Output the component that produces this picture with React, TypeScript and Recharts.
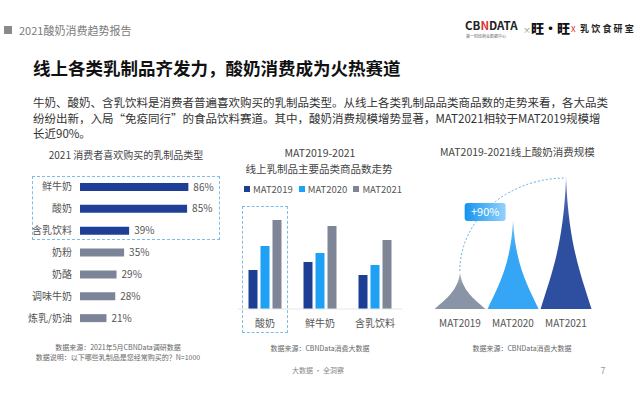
import React from "react";
import { BarChart, Bar, XAxis, YAxis, Cell, LabelList } from "recharts";

const FONT = "'Noto Sans CJK SC', 'Noto Sans', sans-serif";

// left: 2021 消费者喜欢购买的乳制品类型 (%)
const preferCategories = ["鲜牛奶", "酸奶", "含乳饮料", "奶粉", "奶酪", "调味牛奶", "炼乳/奶油"];
const preferShares = [86, 85, 39, 35, 29, 28, 21];
const highlightCount = 3;

// middle: 线上乳制品主要品类商品数走势 (relative)
const skuCategories = ["酸奶", "鲜牛奶", "含乳饮料"];
const skuSeries = ["MAT2019", "MAT2020", "MAT2021"];
const sku2019 = [39, 47, 34];
const sku2020 = [63, 56, 44];
const sku2021 = [89, 83, 69];

// right: 线上酸奶消费规模 (relative, read from spike heights)
const yogurtPeriods = ["MAT2019", "MAT2020", "MAT2021"];
const yogurtScale = [36, 88, 131];
const growthLabel = "+90%";

const paragraph = [
  "牛奶、酸奶、含乳饮料是消费者普遍喜欢购买的乳制品类型。从线上各类乳制品品类商品数的走势来看，各大品类",
  "纷纷出新，入局“免疫同行”的食品饮料赛道。其中，酸奶消费规模增势显著，MAT2021相较于MAT2019规模增",
  "长近90%。",
];

const DARK = "#1f3f96";
const GREY = "#7c8598";
const SKU_COLORS = ["#1c3f95", "#1ea0f5", "#7d8597"];
const SPIKE_COLORS = ["#8994a6", "#35a5f5", "#2e4f9f"];

const preferData = preferCategories.map((name, i) => ({ name, value: preferShares[i] }));
const skuData = skuCategories.map((name, i) => ({
  name,
  MAT2019: sku2019[i],
  MAT2020: sku2020[i],
  MAT2021: sku2021[i],
}));
const yogurtData = yogurtPeriods.map((period, i) => ({ period, value: yogurtScale[i] }));

function T({ x, y, size = 10, color = "#444", weight = 400, align = "center", spacing = 0, children }: any) {
  const tx = align === "center" ? "-50%" : align === "right" ? "-100%" : "0";
  return (
    <div
      style={{
        position: "absolute",
        left: x,
        top: y,
        transform: `translate(${tx}, -50%)`,
        fontSize: size,
        color,
        fontWeight: weight,
        lineHeight: 1.1,
        letterSpacing: spacing,
        whiteSpace: "nowrap",
      }}
    >
      {children}
    </div>
  );
}

const BAND_GAP = 0.02;

function Spike(props: any) {
  const { x, y, width, height, index } = props;
  const cx = x + width / 2;
  const hw = width / 2;
  const yb = y + height;
  const P = (dx: number, dh: number) => `${cx + dx * hw} ${yb - dh * height}`;
  const d = `M${P(-1, 0)} C${P(-0.55, 0.28)} ${P(-0.1, 0.5)} ${P(0, 1)} C${P(0.1, 0.5)} ${P(0.55, 0.28)} ${P(1, 0)} Z`;
  const gid = `spike-${index}`;
  let extra = null;
  if (index === yogurtScale.length - 1) {
    // arc from first peak to last peak, through the scale of this bar
    const pxPerUnit = height / yogurtScale[index];
    const band = width / (1 - 2 * BAND_GAP);
    const x0 = cx - index * band;
    const y0 = yb - yogurtScale[0] * pxPerUnit;
    const rx = cx - x0;
    const ry = y0 - y;
    const a = (40 * Math.PI) / 180;
    const bx = cx - rx * Math.cos(a);
    const by = y0 - ry * Math.sin(a);
    extra = (
      <g>
        <path
          d={`M${x0} ${y0 - 2} A${rx} ${ry - 2} 0 0 1 ${cx} ${y}`}
          fill="none"
          stroke="#5aaee8"
          strokeWidth={1}
          strokeDasharray="2 2"
        />
        <defs>
          <linearGradient id="badge" x1="0" y1="0" x2="1" y2="0">
            <stop offset="0%" stopColor="#1593ee" />
            <stop offset="100%" stopColor="#93d2fb" />
          </linearGradient>
        </defs>
        <rect x={bx - 20} y={by - 9} width={41} height={18} rx={3} fill="url(#badge)" />
        <text x={bx + 0.5} y={by + 4} textAnchor="middle" fill="#fff" fontSize={11} fontFamily={FONT}>
          {growthLabel}
        </text>
      </g>
    );
  }
  return (
    <g>
      <defs>
        <linearGradient id={gid} x1="0" y1="0" x2="0" y2="1">
          <stop offset="0%" stopColor={SPIKE_COLORS[index]} stopOpacity={0.75} />
          <stop offset="35%" stopColor={SPIKE_COLORS[index]} />
          <stop offset="100%" stopColor={SPIKE_COLORS[index]} />
        </linearGradient>
      </defs>
      <path d={d} fill={`url(#${gid})`} />
      {extra}
    </g>
  );
}

export default function App() {
  return (
    <div
      style={{
        position: "absolute",
        left: 0,
        top: 0,
        width: 643,
        height: 394,
        overflow: "hidden",
        background: "#fff",
        fontFamily: FONT,
      }}
    >
      {/* header */}
      <div style={{ position: "absolute", left: 4, top: 26, width: 8, height: 8, background: "#8a8a8a" }} />
      <T x={19} y={30} size={11} color="#7a7a7a" align="left">2021酸奶消费趋势报告</T>
      <T x={465} y={25} size={11.5} color="#222" weight={700} align="left">CB<span style={{ color: "#d33" }}>N</span>DATA</T>
      <T x={466} y={36} size={4} color="#666" align="left">第一财经商业数据中心</T>
      <T x={523} y={30} size={8} color="#888" align="left">×</T>
      <T x={531} y={28} size={13} color="#111" weight={900} align="left">旺·旺</T>
      <T x={571} y={29} size={8} color="#d22" align="left">X</T>
      <T x={580} y={29} size={9} color="#222" weight={700} align="left" spacing={2.2}>乳饮食研室</T>

      {/* title + paragraph */}
      <T x={33} y={68} size={17.5} color="#111" weight={700} align="left">
        线上各类乳制品齐发力，酸奶消费成为火热赛道
      </T>
      {paragraph.map((line, i) => (
        <T key={i} x={33} y={102 + i * 15.5} size={11.5} color="#333" align="left">
          {line}
        </T>
      ))}

      {/* left chart */}
      <T x={126} y={154} size={10} color="#444">2021 消费者喜欢购买的乳制品类型</T>
      <div
        style={{
          position: "absolute",
          left: 32,
          top: 176,
          width: 188,
          height: 64,
          border: "1px dashed #7fbbe8",
          boxSizing: "border-box",
        }}
      />
      <div style={{ position: "absolute", left: 0, top: 176 }}>
        <BarChart
          width={246}
          height={153}
          layout="vertical"
          data={preferData}
          margin={{ top: 0, right: 40, bottom: 0, left: 0 }}
        >
          <XAxis type="number" domain={[0, 100]} hide />
          <YAxis
            type="category"
            dataKey="name"
            width={80}
            axisLine={false}
            tickLine={false}
            tick={{ fontSize: 10, fill: "#555", fontFamily: FONT }}
          />
          <Bar dataKey="value" barSize={8} isAnimationActive={false}>
            {preferData.map((_, i) => (
              <Cell key={i} fill={i < highlightCount ? DARK : GREY} />
            ))}
            <LabelList
              dataKey="value"
              position="right"
              offset={5}
              formatter={(v: any) => `${v}%`}
              style={{ fontSize: 10, fill: "#555", fontFamily: FONT }}
            />
          </Bar>
        </BarChart>
      </div>
      <T x={118} y={348} size={7} color="#666">数据来源：2021年5月CBNData调研数据</T>
      <T x={118} y={357.5} size={7} color="#666">数据说明：以下哪些乳制品是您经常购买的？N=1000</T>

      {/* middle chart */}
      <T x={320} y={153} size={10.5} color="#444">MAT2019-2021</T>
      <T x={319} y={169} size={10.5} color="#444">线上乳制品主要品类商品数走势</T>
      <div
        style={{
          position: "absolute",
          left: 244,
          top: 182,
          display: "flex",
          alignItems: "center",
          fontSize: 9.5,
          color: "#555",
        }}
      >
        {skuSeries.map((s, i) => (
          <div key={s} style={{ display: "flex", alignItems: "center", marginRight: 6 }}>
            <div style={{ width: 6, height: 6, background: SKU_COLORS[i], marginRight: 3 }} />
            {s}
          </div>
        ))}
      </div>
      <div
        style={{
          position: "absolute",
          left: 242,
          top: 206,
          width: 46,
          height: 127,
          border: "1px dashed #7fbbe8",
          boxSizing: "border-box",
        }}
      />
      <div style={{ position: "absolute", left: 230, top: 195 }}>
        <BarChart
          width={190}
          height={145}
          data={skuData}
          barSize={9}
          barGap={3}
          margin={{ top: 14, right: 17.5, bottom: 0, left: 7.5 }}
        >
          <XAxis
            dataKey="name"
            height={31}
            tickLine={false}
            axisLine={{ stroke: "#e6e6e6" }}
            tickMargin={5}
            tick={{ fontSize: 10, fill: "#555", fontFamily: FONT }}
          />
          <YAxis hide domain={[0, 100]} />
          {skuSeries.map((s, i) => (
            <Bar key={s} dataKey={s} fill={SKU_COLORS[i]} isAnimationActive={false} />
          ))}
        </BarChart>
      </div>
      <T x={320} y={349} size={7} color="#666">数据来源：CBNData消费大数据</T>

      {/* right chart */}
      <T x={440} y={152} size={10.5} color="#444" align="left">MAT2019-2021线上酸奶消费规模</T>
      <div style={{ position: "absolute", left: 420, top: 150 }}>
        <BarChart
          width={190}
          height={189}
          data={yogurtData}
          barCategoryGap={`${BAND_GAP * 100}%`}
          margin={{ top: 19, right: 17.5, bottom: 0, left: 13.5 }}
        >
          <XAxis
            dataKey="period"
            height={30}
            tickLine={false}
            axisLine={false}
            tickMargin={5}
            tick={{ fontSize: 10, fill: "#555", fontFamily: FONT }}
          />
          <YAxis hide domain={[0, 140]} />
          <Bar dataKey="value" shape={<Spike />} isAnimationActive={false} />
        </BarChart>
      </div>
      <T x={522} y={349} size={7} color="#666">数据来源：CBNData消费大数据</T>

      {/* footer */}
      <T x={318} y={371} size={7} color="#888">大数据 · 全洞察</T>
      <T x={603} y={371} size={9} color="#999">7</T>
    </div>
  );
}
